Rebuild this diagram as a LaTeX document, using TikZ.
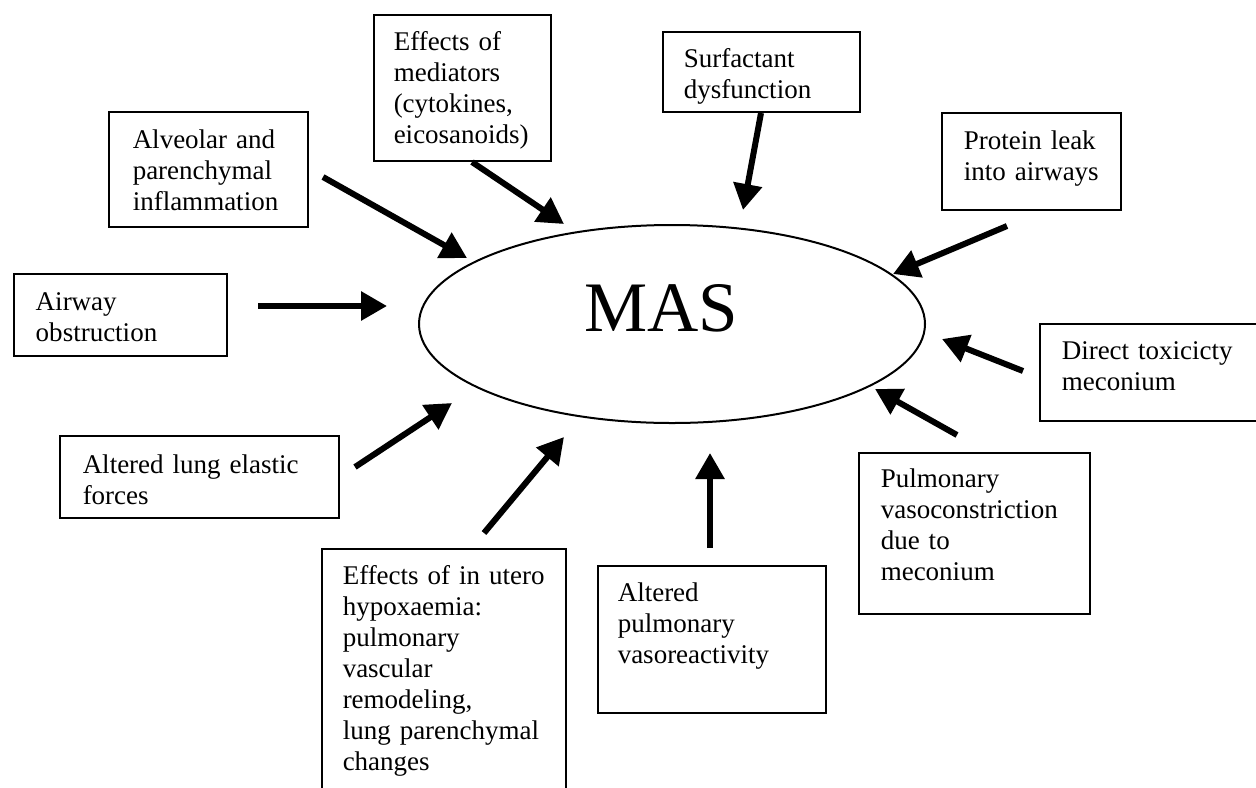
\documentclass[tikz,border=0pt]{standalone}
\usepackage{fontspec}
\setmainfont{Liberation Serif}
\usetikzlibrary{shapes.geometric,arrows.meta}
\tikzset{
  bx/.style={draw, line width=0.75pt, inner sep=0pt, anchor=north west,
    font=\fontsize{13.5pt}{15.5pt}\selectfont},
  arr/.style={line width=3pt, -{Triangle[length=13pt,width=14pt]}}
}
\newcommand{\tl}[2]{\begin{tabular}[t]{@{\hspace{#1}}l@{}}#2\end{tabular}}
\begin{document}
\begin{tikzpicture}[x=0.5pt,y=-0.5pt]
\useasboundingbox (0,0) rectangle (1256,787);
\fill[white] (0,0) rectangle (1256,787);
\clip (0,0) rectangle (1256,787);

% boxes
\node[bx, text width=99.5pt, text height=18.5pt, text depth=39pt] (alv) at (108,111)
  {\tl{12pt}{Alveolar and\\parenchymal\\inflammation}};
\node[bx, text width=88.5pt, text height=18pt, text depth=55pt] (med) at (373,14)
  {\tl{10pt}{Effects of\\mediators\\(cytokines,\\eicosanoids)}};
\node[bx, text width=98.5pt, text height=18pt, text depth=22pt] (surf) at (662,31)
  {\tl{10.5pt}{Surfactant\\dysfunction}};
\node[bx, text width=89.5pt, text height=18.5pt, text depth=30pt] (prot) at (941,112)
  {\tl{11pt}{Protein leak\\into airways}};
\node[bx, text width=106.5pt, text height=18.5pt, text depth=22.5pt] (air) at (13,273)
  {\tl{11pt}{Airway\\obstruction}};
\node[bx, text width=115.5pt, text height=18pt, text depth=30.5pt] (dir) at (1039,323)
  {\tl{11pt}{Direct toxicicty\\meconium}};
\node[bx, text width=139.5pt, text height=19pt, text depth=22pt] (ela) at (59,435)
  {\tl{11.5pt}{Altered lung elastic\\forces}};
\node[bx, text width=122pt, text height=18pt, text depth=108pt] (hyp) at (321,548)
  {\tl{10.5pt}{Effects of in utero\\hypoxaemia:\\pulmonary\\vascular\\remodeling,\\lung parenchymal\\changes}};
\node[bx, text width=114pt, text height=18pt, text depth=55.5pt] (vre) at (597,565)
  {\tl{10pt}{Altered\\pulmonary\\vasoreactivity}};
\node[bx, text width=115.5pt, text height=17.5pt, text depth=63pt] (vco) at (858,452)
  {\tl{11pt}{Pulmonary\\vasoconstriction\\due to\\meconium}};

% central ellipse
\node[draw, ellipse, line width=1pt, minimum width=253pt, minimum height=99pt, inner sep=0pt] (ell) at (672,324) {};
\node[anchor=base, inner sep=0pt, font=\fontsize{35.5pt}{40pt}\selectfont] (mas) at (661,331) {MAS};

% arrow end points
\coordinate (s1) at (323,177);  \coordinate (t1) at (467,258);
\coordinate (s2) at (472,162);  \coordinate (t2) at (564,224);
\coordinate (s3) at (761,113);  \coordinate (t3) at (743,210);
\coordinate (s4) at (1007,226); \coordinate (t4) at (893,274);
\coordinate (s5) at (258,306);  \coordinate (t5) at (387,306);
\coordinate (s6) at (1023,371); \coordinate (t6) at (942,339);
\coordinate (s7) at (957,435);  \coordinate (t7) at (875,389);
\coordinate (s8) at (355,467);  \coordinate (t8) at (452,403);
\coordinate (s9) at (484,533);  \coordinate (t9) at (564,437);
\coordinate (s10) at (710,548); \coordinate (t10) at (710,453);

\foreach \i in {1,...,10} { \draw[arr] (s\i) -- (t\i); }
\end{tikzpicture}
\end{document}
